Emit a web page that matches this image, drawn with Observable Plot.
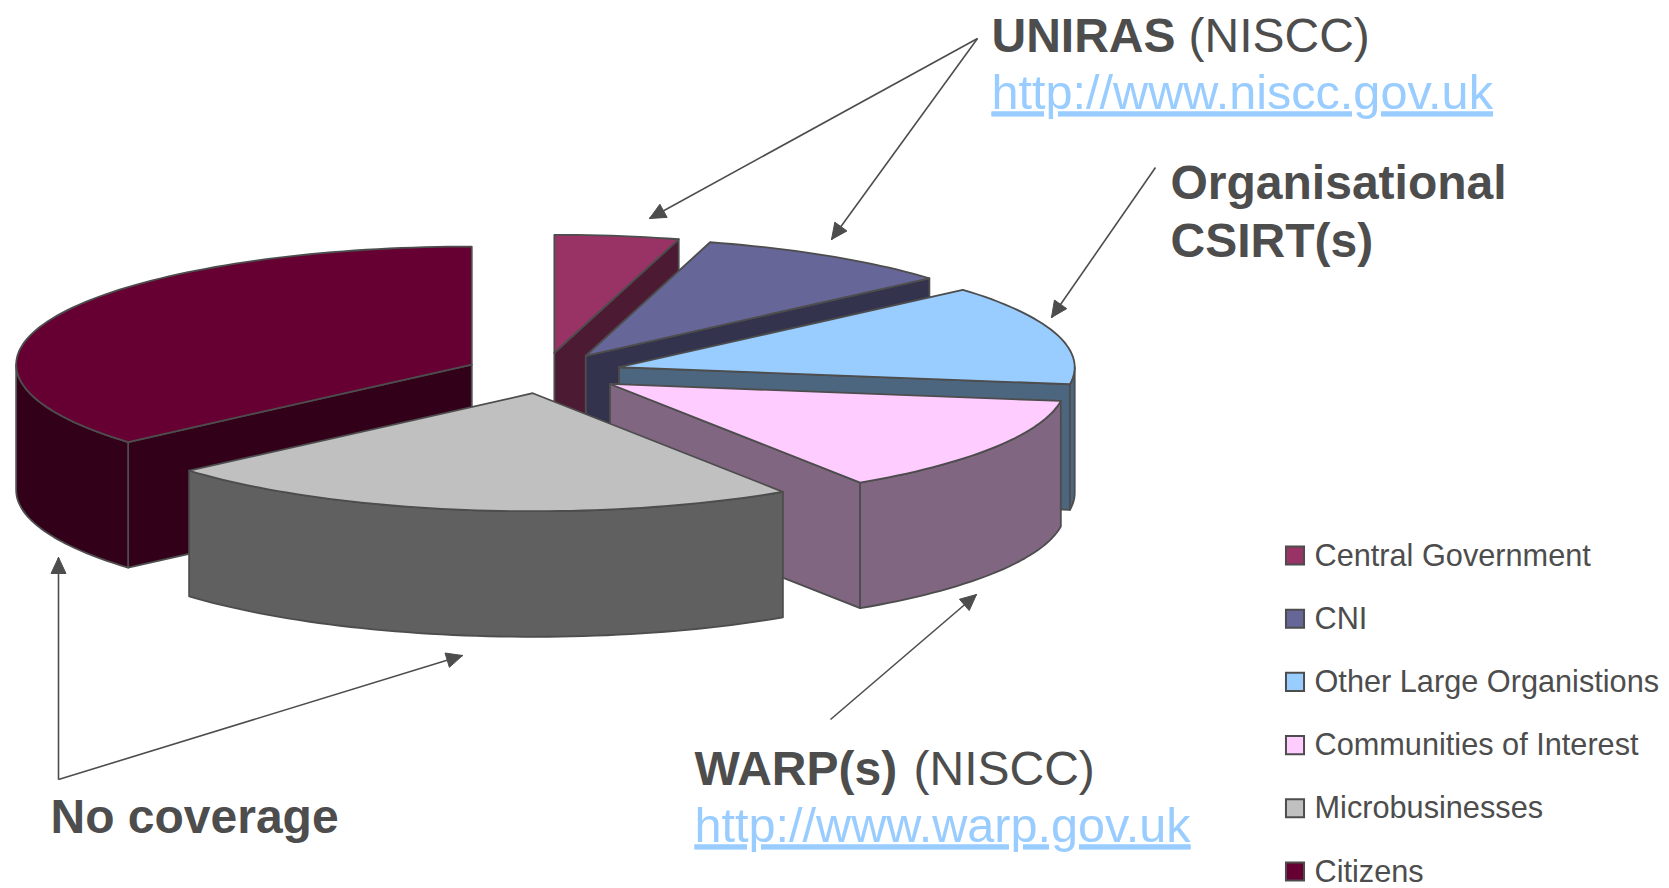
<!DOCTYPE html>
<html>
<head>
<meta charset="utf-8">
<style>
html,body{margin:0;padding:0;background:#fff;overflow:hidden}
svg{display:block}
</style>
<script src="https://cdn.jsdelivr.net/npm/d3@7"></script>
<script src="https://cdn.jsdelivr.net/npm/@observablehq/plot@0.6"></script>
</head>
<body>
<div id="chart"></div>
<script>
// ---- chart data
const categories = ["Central Government","CNI","Other Large Organistions","Communities of Interest","Microbusinesses","Citizens"];
const shares = [4.4, 9.2, 13.7, 13.45, 22.85, 36.4];
const topColors = ["#993366","#666699","#99CCFF","#FFCCFF","#C0C0C0","#660033"];
const paintOrder = [5,0,1,2,3,4];

// ---- pie projection
const W = 1669, H = 888;
const cx = 543, cy = 372.5, rx = 455.6, ry = 118, depth = 125.6, explode = 0.173;
const total = d3.sum(shares);
const rad = a => a * Math.PI / 180;
let run = 0;
const slices = shares.map((v,i) => {
  const a0 = run / total * 360; run += v; const a1 = run / total * 360;
  const mid = rad((a0 + a1) / 2);
  return {i, a0, a1, ox: cx + explode * rx * Math.sin(mid), oy: cy - explode * ry * Math.cos(mid)};
});
const rim = (s,a,d=0) => ({x: s.ox + rx * Math.sin(rad(a)), y: s.oy - ry * Math.cos(rad(a)) + d});
const apex = (s,d=0) => ({x: s.ox, y: s.oy + d});
const arc = (s,a0,a1,d=0) => {
  const n = Math.max(2, Math.ceil((a1 - a0) / 1.5)), out = [];
  for (let k = 0; k <= n; k++) out.push(rim(s, a0 + (a1 - a0) * k / n, d));
  return out;
};
const half = c => { const r = d3.rgb(c); return d3.rgb(r.r/2, r.g/2, r.b/2).formatHex(); };

const facePoints = [];
let faceId = 0;
function addFace(pts, fill, label){
  const id = faceId++;
  [...pts, pts[0]].forEach(p => facePoints.push({x:p.x, y:p.y, face:id, fill, label}));
}
for (const idx of paintOrder){
  const s = slices[idx], top = topColors[idx], wall = half(top), label = categories[idx];
  if (s.a0 > 180) addFace([apex(s), rim(s,s.a0), rim(s,s.a0,depth), apex(s,depth)], wall, label);
  if (s.a1 < 180) addFace([apex(s), rim(s,s.a1), rim(s,s.a1,depth), apex(s,depth)], wall, label);
  const f0 = Math.max(s.a0, 90), f1 = Math.min(s.a1, 270);
  if (f1 > f0) addFace([...arc(s,f0,f1), ...arc(s,f0,f1,depth).reverse()], wall, label);
  addFace([apex(s), ...arc(s,s.a0,s.a1)], top, label);
}

// ---- annotations
const ink = "#4d4d4d", linkBlue = "#99CCFF";
const font = "'Liberation Sans', Arial, sans-serif";
const annotationBold = [
  {t:"UNIRAS", x:991, y:51},
  {t:"Organisational", x:1170, y:198},
  {t:"CSIRT(s)", x:1170, y:256},
  {t:"WARP(s)", x:694, y:784},
  {t:"No coverage", x:50, y:832}
];
const annotationPlain = [
  {t:"(NISCC)", x:1188, y:51},
  {t:"(NISCC)", x:913, y:784}
];
const annotationLinks = [
  {t:"http://www.niscc.gov.uk", x:991, y:108},
  {t:"http://www.warp.gov.uk", x:694, y:841}
];
const arrows = [
  {x1:977,y1:38,x2:649,y2:218},
  {x1:977,y1:38,x2:831,y2:239},
  {x1:1155,y1:167,x2:1051,y2:317},
  {x1:830,y1:719,x2:976,y2:594},
  {x1:58,y1:779,x2:58,y2:557},
  {x1:58,y1:779,x2:462,y2:655}
];
const heads = [];
arrows.forEach((a,k) => {
  const L = Math.hypot(a.x2-a.x1, a.y2-a.y1), ux=(a.x2-a.x1)/L, uy=(a.y2-a.y1)/L;
  const len = 16, w = 7.5;
  const bx = a.x2-ux*len, by = a.y2-uy*len;
  [[a.x2,a.y2],[bx-uy*w,by+ux*w],[bx+uy*w,by-ux*w],[a.x2,a.y2]].forEach(p => heads.push({x:p[0],y:p[1],k}));
});

const legendRows = categories.map((name,i) => ({name, color:topColors[i], y:555 + i*63.2}));

const chart = Plot.plot({
  width: W, height: H,
  margin: 0,
  x: {domain:[0,W], range:[0,W], axis:null},
  y: {domain:[0,H], range:[0,H], axis:null},
  style: {background:"#fff", fontFamily:font, maxWidth:"none"},
  marks: [
    Plot.line(facePoints, {x:"x", y:"y", z:"face", fill:"fill", stroke:ink, strokeWidth:1.8, strokeLinejoin:"round", title:"label"}),
    Plot.link(arrows, {x1:"x1", y1:"y1", x2:"x2", y2:"y2", stroke:ink, strokeWidth:1.6}),
    Plot.line(heads, {x:"x", y:"y", z:"k", fill:ink, stroke:ink, strokeWidth:1}),
    Plot.text(annotationBold, {x:"x", y:"y", text:"t", textAnchor:"start", lineAnchor:"bottom", fontSize:48, fontWeight:"bold", fill:ink, fontFamily:font}),
    Plot.text(annotationPlain, {x:"x", y:"y", text:"t", textAnchor:"start", lineAnchor:"bottom", fontSize:48, fill:ink, fontFamily:font}),
    Plot.text(annotationLinks, {x:"x", y:"y", text:"t", href:"t", textAnchor:"start", lineAnchor:"bottom", fontSize:48.6, fill:linkBlue, fontFamily:font}),
    Plot.dot(legendRows, {x:()=>1294.5, y:"y", symbol:"square", r:10.2, fill:"color", stroke:ink, strokeWidth:2}),
    Plot.text(legendRows, {x:()=>1314, y:d=>d.y+10, text:"name", textAnchor:"start", lineAnchor:"bottom", fontSize:30.7, fill:ink, fontFamily:font})
  ]
});
d3.select(chart).selectAll("a text, a").attr("text-decoration","underline");
document.getElementById("chart").append(chart);
</script>
</body>
</html>
